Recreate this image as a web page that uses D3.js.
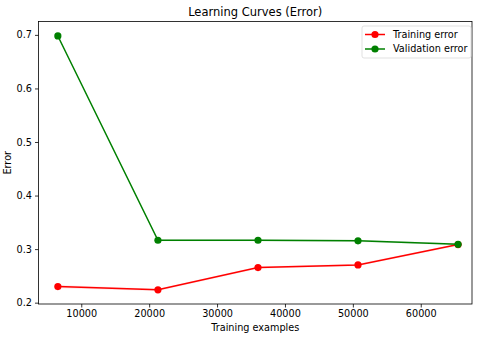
<!DOCTYPE html>
<html>
<head>
<meta charset="utf-8">
<script src="https://cdn.jsdelivr.net/npm/d3@7"></script>
<style>
  body { margin: 0; background: #fff; }
  text { font-family: "DejaVu Sans", sans-serif; fill: #000; }
</style>
</head>
<body>
<div class="chart"></div>
<script>
var width = 480, height = 338;
var plot = { left: 38.5, right: 472, top: 21.5, bottom: 304 };

// data
var trainSizes = [6550, 21290, 36030, 50760, 65500];
var trainError = [0.230, 0.224, 0.2655, 0.2705, 0.3085];
var trainStd = [0.003, 0.002, 0.002, 0.002, 0.002];
var validError = [0.698, 0.3165, 0.3165, 0.3155, 0.309];
var validStd = [0.001, 0.002, 0.002, 0.002, 0.002];
var xTicks = [10000, 20000, 30000, 40000, 50000, 60000];
var yTicks = [0.2, 0.3, 0.4, 0.5, 0.6, 0.7];

var svg = d3.select('.chart').append('svg')
  .attr('width', width)
  .attr('height', height);

var x = d3.scaleLinear()
  .domain([3700, 67550])
  .range([plot.left, plot.right]);

var y = d3.scaleLinear()
  .domain([0.1975, 0.725])
  .range([plot.bottom, plot.top]);

var series = [
  { name: 'Training error', color: '#ff0000', values: trainError, std: trainStd },
  { name: 'Validation error', color: '#008000', values: validError, std: validStd }
];

// shaded std bands
var area = d3.area()
  .x(function (d) { return x(d.x); })
  .y0(function (d) { return y(d.v - d.s); })
  .y1(function (d) { return y(d.v + d.s); });

var line = d3.line()
  .x(function (d) { return x(d.x); })
  .y(function (d) { return y(d.v); });

series.forEach(function (s) {
  var pts = trainSizes.map(function (t, i) {
    return { x: t, v: s.values[i], s: s.std[i] };
  });
  svg.append('path')
    .datum(pts)
    .attr('d', area)
    .attr('fill', s.color)
    .attr('fill-opacity', 0.1);
  svg.append('path')
    .datum(pts)
    .attr('d', line)
    .attr('fill', 'none')
    .attr('stroke', s.color)
    .attr('stroke-width', 1.5);
  svg.selectAll(null)
    .data(pts)
    .enter().append('circle')
    .attr('cx', function (d) { return x(d.x); })
    .attr('cy', function (d) { return y(d.v); })
    .attr('r', 3.6)
    .attr('fill', s.color);
});

// axes
var xAxis = d3.axisBottom(x)
  .tickValues(xTicks)
  .tickFormat(d3.format('d'))
  .tickSize(3.5)
  .tickPadding(3);

var yAxis = d3.axisLeft(y)
  .tickValues(yTicks)
  .tickFormat(d3.format('.1f'))
  .tickSize(3.5)
  .tickPadding(3);

var gx = svg.append('g')
  .attr('transform', 'translate(0,' + plot.bottom + ')')
  .call(xAxis);
var gy = svg.append('g')
  .attr('transform', 'translate(' + plot.left + ',0)')
  .call(yAxis);

[gx, gy].forEach(function (g) {
  g.select('.domain').remove();
  g.selectAll('line').attr('stroke', '#000').attr('stroke-width', 0.8);
  g.selectAll('text')
    .style('font-family', '"DejaVu Sans", sans-serif')
    .style('font-size', '9.7px')
    .attr('fill', '#000');
});

// frame
svg.append('rect')
  .attr('x', plot.left)
  .attr('y', plot.top)
  .attr('width', plot.right - plot.left)
  .attr('height', plot.bottom - plot.top)
  .attr('fill', 'none')
  .attr('stroke', '#000')
  .attr('stroke-width', 0.8);

// title and labels
svg.append('text')
  .attr('x', (plot.left + plot.right) / 2)
  .attr('y', 16)
  .attr('text-anchor', 'middle')
  .style('font-size', '11.5px')
  .text('Learning Curves (Error)');

svg.append('text')
  .attr('x', (plot.left + plot.right) / 2)
  .attr('y', 331)
  .attr('text-anchor', 'middle')
  .style('font-size', '9.7px')
  .text('Training examples');

svg.append('text')
  .attr('transform', 'translate(11,' + ((plot.top + plot.bottom) / 2) + ')rotate(-90)')
  .attr('text-anchor', 'middle')
  .style('font-size', '9.7px')
  .text('Error');

// legend
var legend = svg.append('g').attr('transform', 'translate(362,26)');
legend.append('rect')
  .attr('width', 109)
  .attr('height', 32)
  .attr('rx', 2)
  .attr('fill', '#fff')
  .attr('fill-opacity', 0.8)
  .attr('stroke', '#d9d9d9')
  .attr('stroke-width', 0.8);

series.forEach(function (s, i) {
  var row = legend.append('g').attr('transform', 'translate(0,' + (8.5 + i * 14.5) + ')');
  row.append('line')
    .attr('x1', 3).attr('x2', 23)
    .attr('stroke', s.color)
    .attr('stroke-width', 1.5);
  row.append('circle')
    .attr('cx', 13)
    .attr('r', 3.6)
    .attr('fill', s.color);
  row.append('text')
    .attr('x', 31)
    .attr('dy', '0.35em')
    .style('font-size', '9.7px')
    .text(s.name);
});
</script>
</body>
</html>
